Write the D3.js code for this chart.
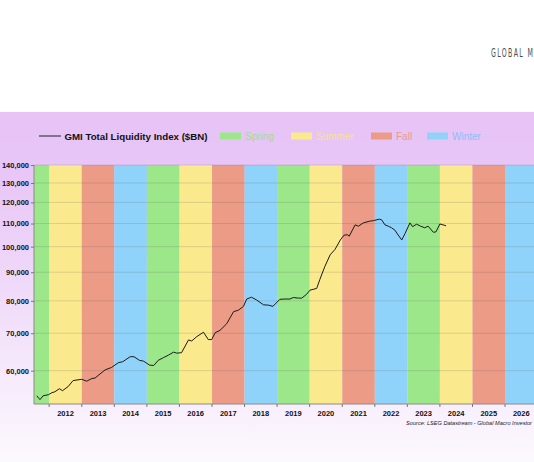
<!DOCTYPE html>
<html>
<head>
<meta charset="utf-8">
<script src="https://cdn.jsdelivr.net/npm/d3@7"></script>
<style>
  html, body { margin: 0; padding: 0; background: #fff; }
  svg { display: block; }
</style>
</head>
<body>
<svg id="chart" width="534" height="462"></svg>
<script>
"use strict";

// GMI Total Liquidity Index ($BN)
const dates = [
    "2011-08-15", "2011-09-20", "2011-10-25", "2011-12-25", "2012-02-01", "2012-03-05",
    "2012-04-25", "2012-05-30", "2012-08-01", "2012-09-25", "2013-01-01", "2013-02-25",
    "2013-04-25", "2013-05-30", "2013-07-25", "2013-09-20", "2013-12-01", "2014-02-15",
    "2014-04-05", "2014-06-28", "2014-08-10", "2014-10-10", "2014-11-25", "2015-01-30",
    "2015-03-20", "2015-05-08", "2015-07-05", "2015-08-30", "2015-10-27", "2015-12-01",
    "2016-01-25", "2016-04-12", "2016-05-18", "2016-07-12", "2016-09-27", "2016-11-20",
    "2016-12-28", "2017-02-05", "2017-04-01", "2017-06-15", "2017-08-30", "2017-10-25",
    "2017-12-20", "2018-01-25", "2018-03-20", "2018-05-15", "2018-08-01", "2018-09-25",
    "2018-11-15", "2019-02-01", "2019-04-01", "2019-05-25", "2019-07-01", "2019-08-30",
    "2019-10-05", "2019-11-28", "2020-01-05", "2020-03-20", "2020-04-25", "2020-06-20",
    "2020-08-18", "2020-10-12", "2020-12-10", "2021-01-22", "2021-03-03", "2021-03-20",
    "2021-05-25", "2021-07-01", "2021-08-25", "2021-11-05", "2021-12-15", "2022-02-20",
    "2022-03-18", "2022-04-25", "2022-06-01", "2022-07-08", "2022-08-15", "2022-09-20",
    "2022-10-30", "2022-12-05", "2023-01-30", "2023-02-28", "2023-04-15", "2023-05-30",
    "2023-07-15", "2023-08-22", "2023-10-20", "2023-11-18", "2024-01-01", "2024-02-05",
    "2024-03-10"
];
const liquidity = [
    54100, 53250, 54100, 54350, 54800, 55000,
    55700, 55250, 56200, 57600, 57900, 57450,
    58100, 58200, 59200, 60200, 60800, 62000,
    62250, 63550, 63550, 62600, 62400, 61400,
    61300, 62600, 63300, 63950, 64750, 64500,
    64600, 68100, 67800, 69000, 70300, 68200,
    68200, 70150, 70850, 72800, 76500, 77000,
    78200, 80600, 81200, 80300, 78700, 78600,
    78200, 80500, 80600, 80600, 81100, 80900,
    80900, 82200, 83600, 84200, 87400, 92200,
    96700, 98900, 102800, 104900, 105000, 104400,
    109400, 108800, 110300, 111100, 111300, 112000,
    111700, 109400, 108800, 108100, 107000, 104900,
    102800, 105500, 110300, 108600, 109700, 108800,
    108100, 108800, 106100, 106300, 109800, 109400,
    109000
];

// one background band per calendar year, cycling through the seasons
const bandYears = d3.range(2011, 2027);
const seasons = ["Spring", "Summer", "Fall", "Winter"];
const yTicks = [60000, 70000, 80000, 90000, 100000, 110000, 120000, 130000, 140000];
const xLabelYears = d3.range(2012, 2027);

const seasonColors = {
    Spring: "#9de78b",
    Summer: "#fbe98e",
    Fall: "#ec9c86",
    Winter: "#90d3fa"
};
const seasonTextColors = {
    Spring: "#9fdf8c",
    Summer: "#f6e290",
    Fall: "#e79a8e",
    Winter: "#8fbdf6"
};

const svg = d3.select("#chart");
const width = 534;
const height = 462;
const plot = { left: 34, right: 538, top: 165, bottom: 404 };

// background: white header, lavender panel fading to white
const defs = svg.append("defs");
const grad = defs.append("linearGradient")
    .attr("id", "panelFade")
    .attr("x1", 0).attr("y1", 0).attr("x2", 0).attr("y2", 1);
grad.append("stop").attr("offset", "0%").attr("stop-color", "#e7c3f6");
grad.append("stop").attr("offset", "18%").attr("stop-color", "#e8c6f6");
grad.append("stop").attr("offset", "100%").attr("stop-color", "#fcf9fe");

svg.append("rect").attr("width", width).attr("height", height).attr("fill", "#fff");
svg.append("rect")
    .attr("x", 0).attr("y", 112)
    .attr("width", width).attr("height", height - 112)
    .attr("fill", "url(#panelFade)");

// brand mark, condensed by a horizontal squeeze; runs off the right edge as in the original
svg.append("text")
    .attr("transform", "translate(491,56.7) scale(0.5,1)")
    .attr("font-family", "'DejaVu Sans', sans-serif")
    .attr("font-size", 12.5)
    .attr("letter-spacing", 2.7)
    .attr("fill", "#4d4d4d")
    .text("GLOBAL MACRO INVESTOR");

const x = d3.scaleTime()
    .domain([new Date(2011, 6, 15), new Date(2027, 0, 1)])
    .range([plot.left, 537.6]);
const y = d3.scaleLog()
    .domain([52300, 140000])
    .range([plot.bottom, plot.top]);

const chartG = svg.append("g");

chartG.selectAll("rect.band")
    .data(bandYears)
    .join("rect")
    .attr("class", "band")
    .attr("x", (d) => Math.max(plot.left, x(new Date(d, 0, 1))))
    .attr("y", plot.top)
    .attr("width", (d) => x(new Date(d + 1, 0, 1)) - Math.max(plot.left, x(new Date(d, 0, 1))))
    .attr("height", plot.bottom - plot.top)
    .attr("fill", (d, i) => seasonColors[seasons[i % 4]]);

chartG.selectAll("line.grid")
    .data(yTicks)
    .join("line")
    .attr("class", "grid")
    .attr("x1", plot.left)
    .attr("x2", plot.right)
    .attr("y1", (d) => y(d))
    .attr("y2", (d) => y(d))
    .attr("stroke", "rgba(60,60,60,0.22)")
    .attr("stroke-width", 0.7);

// y axis
const yAxis = d3.axisLeft(y)
    .tickValues(yTicks)
    .tickFormat(d3.format(","))
    .tickSize(3)
    .tickPadding(2);
const yG = chartG.append("g")
    .attr("transform", `translate(${plot.left},0)`)
    .call(yAxis);
yG.select(".domain").attr("stroke", "#8a8a8a").attr("d", `M0,${plot.top}V${plot.bottom}`);
yG.selectAll(".tick line").attr("stroke", "#777");
yG.selectAll(".tick text")
    .attr("font-family", "Arial, 'Liberation Sans', sans-serif")
    .attr("font-size", 7.5)
    .attr("font-weight", "bold")
    .attr("fill", "#111");

// x axis: ticks on year boundaries, labels mid-year
const xG = chartG.append("g")
    .attr("transform", `translate(0,${plot.bottom})`);
xG.append("line")
    .attr("x1", plot.left).attr("x2", plot.right)
    .attr("stroke", "#8a8a8a");
xG.selectAll("line.tick")
    .data(xLabelYears)
    .join("line")
    .attr("class", "tick")
    .attr("x1", (d) => x(new Date(d, 0, 1)))
    .attr("x2", (d) => x(new Date(d, 0, 1)))
    .attr("y1", 0).attr("y2", 3)
    .attr("stroke", "#777");
xG.selectAll("text")
    .data(xLabelYears)
    .join("text")
    .attr("x", (d) => x(new Date(d, 6, 2)))
    .attr("y", 11.5)
    .attr("text-anchor", "middle")
    .attr("font-family", "Arial, 'Liberation Sans', sans-serif")
    .attr("font-size", 7.5)
    .attr("font-weight", "bold")
    .attr("fill", "#111")
    .text((d) => d);

// liquidity line
const series = dates.map((d, i) => ({ date: d3.timeParse("%Y-%m-%d")(d), value: liquidity[i] }));
chartG.append("path")
    .datum(series)
    .attr("fill", "none")
    .attr("stroke", "#1a1a1a")
    .attr("stroke-width", 1)
    .attr("stroke-linejoin", "round")
    .attr("d", d3.line().x((d) => x(d.date)).y((d) => y(d.value)));

// legend
const legend = svg.append("g").attr("transform", "translate(0,136)");
legend.append("line")
    .attr("x1", 39).attr("x2", 61)
    .attr("stroke", "#222").attr("stroke-width", 1);
legend.append("text")
    .attr("x", 64.5).attr("y", 3.5)
    .attr("font-family", "Arial, 'Liberation Sans', sans-serif")
    .attr("font-size", 9.7)
    .attr("font-weight", "bold")
    .attr("fill", "#111")
    .text("GMI Total Liquidity Index ($BN)");

const legendX = [220, 291, 371, 427];
const legendItems = legend.selectAll("g.item")
    .data(seasons)
    .join("g")
    .attr("class", "item")
    .attr("transform", (d, i) => `translate(${legendX[i]},0)`);
legendItems.append("rect")
    .attr("x", 0).attr("y", -3.5)
    .attr("width", 21).attr("height", 7)
    .attr("fill", (d) => seasonColors[d]);
legendItems.append("text")
    .attr("x", 25).attr("y", 3.5)
    .attr("font-family", "Arial, 'Liberation Sans', sans-serif")
    .attr("font-size", 10)
    .attr("fill", (d) => seasonTextColors[d])
    .text((d) => d);

// source note
svg.append("text")
    .attr("x", 532)
    .attr("y", 424.5)
    .attr("text-anchor", "end")
    .attr("font-family", "Arial, 'Liberation Sans', sans-serif")
    .attr("font-size", 5.6)
    .attr("font-style", "italic")
    .attr("fill", "#222")
    .text("Source: LSEG Datastream - Global Macro Investor");
</script>
</body>
</html>
